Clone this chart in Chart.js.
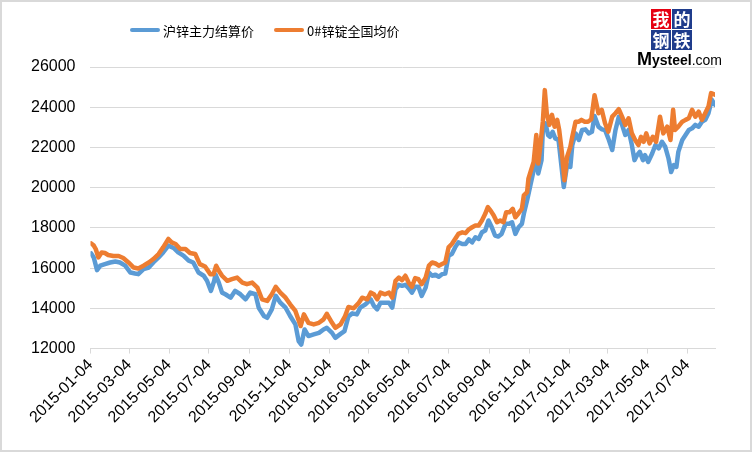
<!DOCTYPE html>
<html>
<head>
<meta charset="utf-8">
<title>沪锌主力结算价 vs 0#锌锭全国均价</title>
<script src="https://cdn.jsdelivr.net/npm/chart.js@4.4.1/dist/chart.umd.min.js"></script>
<style>
    html, body { margin: 0; padding: 0; background: #fff; }
    #wrap { width: 752px; height: 452px; }
</style>
</head>
<body>
<div id="wrap"><canvas id="myChart" width="752" height="452"></canvas></div>
<script>
// Reeksnamen
const seriesNames = ['沪锌主力结算价', '0#锌锭全国均价'];

// As-labels (elke 2 maanden)
const tickLabels = [
    '2015-01-04', '2015-03-04', '2015-05-04', '2015-07-04', '2015-09-04', '2015-11-04',
    '2016-01-04', '2016-03-04', '2016-05-04', '2016-07-04', '2016-09-04', '2016-11-04',
    '2017-01-04', '2017-03-04', '2017-05-04', '2017-07-04'
];

// 沪锌主力结算价 (blauw)
const zincDates = [
    '2015-01-05','2015-01-09','2015-01-14','2015-01-19','2015-01-26','2015-02-03','2015-02-11','2015-02-18',
    '2015-02-26','2015-03-06','2015-03-13','2015-03-18','2015-03-26','2015-04-03','2015-04-10','2015-04-18',
    '2015-04-25','2015-05-03','2015-05-11','2015-05-18','2015-05-26','2015-06-03','2015-06-10','2015-06-18',
    '2015-06-26','2015-07-01','2015-07-07','2015-07-12','2015-07-14','2015-07-19','2015-07-24','2015-07-29',
    '2015-08-06','2015-08-13','2015-08-21','2015-08-29','2015-09-05','2015-09-13','2015-09-18','2015-09-26',
    '2015-10-01','2015-10-08','2015-10-14','2015-10-21','2015-10-29','2015-11-05','2015-11-13','2015-11-18',
    '2015-11-22','2015-11-27','2015-12-03','2015-12-11','2015-12-19','2015-12-26','2015-12-31','2016-01-08',
    '2016-01-13','2016-01-21','2016-01-27','2016-02-02','2016-02-08','2016-02-15','2016-02-20','2016-02-28',
    '2016-03-07','2016-03-12','2016-03-17','2016-03-22','2016-03-29','2016-04-04','2016-04-09','2016-04-14',
    '2016-04-19','2016-04-24','2016-04-29','2016-05-04','2016-05-09','2016-05-14','2016-05-19','2016-05-24',
    '2016-05-30','2016-06-04','2016-06-09','2016-06-14','2016-06-19','2016-06-24','2016-06-29','2016-07-04',
    '2016-07-09','2016-07-14','2016-07-19','2016-07-25','2016-07-30','2016-08-04','2016-08-09','2016-08-14',
    '2016-08-19','2016-08-24','2016-08-29','2016-09-03','2016-09-08','2016-09-13','2016-09-18','2016-09-23',
    '2016-09-29','2016-10-04','2016-10-09','2016-10-14','2016-10-19','2016-10-24','2016-10-27','2016-11-01',
    '2016-11-06','2016-11-11','2016-11-15','2016-11-18','2016-11-23','2016-11-25','2016-11-29','2016-12-03',
    '2016-12-06','2016-12-10','2016-12-14','2016-12-19','2016-12-23','2016-12-27','2017-01-01','2017-01-06',
    '2017-01-09','2017-01-14','2017-01-19','2017-01-24','2017-01-29','2017-02-03','2017-02-08','2017-02-12',
    '2017-02-18','2017-02-23','2017-02-28','2017-03-05','2017-03-11','2017-03-16','2017-03-21','2017-03-26',
    '2017-03-31','2017-04-05','2017-04-10','2017-04-14','2017-04-18','2017-04-22','2017-04-27','2017-04-30',
    '2017-05-05','2017-05-11','2017-05-16','2017-05-21','2017-05-26','2017-05-31','2017-06-05','2017-06-09',
    '2017-06-13','2017-06-17','2017-06-20','2017-06-26','2017-07-01','2017-07-06','2017-07-11','2017-07-16',
    '2017-07-21','2017-07-26','2017-07-31','2017-08-05','2017-08-10','2017-08-15'
];
const zincSettle = [
    16730,16530,15900,16120,16200,16280,16330,16280,
    16120,15780,15730,15700,15950,16030,16280,16530,
    16780,17120,17000,16780,16620,16370,16280,15780,
    15620,15370,14870,15370,15680,15280,14780,14700,
    14530,14870,14700,14450,14780,14700,14030,13620,
    13530,13950,14620,14280,14030,13620,13200,12370,
    12200,12950,12620,12700,12780,12950,13030,12780,
    12530,12730,12870,13600,13750,13700,14030,14200,
    14450,14120,13950,14280,14280,14280,14030,14950,
    15170,15120,15170,15000,14780,15070,15070,14620,
    15030,15780,15620,15670,15570,15700,15730,16620,
    16700,17030,17280,17200,17200,17430,17280,17530,
    17450,17780,17870,18370,18030,17620,17570,17700,
    18200,18200,18280,17700,18030,18200,18700,19370,
    20120,20870,21530,20700,21370,22870,23200,22620,
    22530,22780,22450,22370,21200,20030,21120,21030,
    22120,22700,22370,22870,22900,22700,22780,23560,
    23030,22900,22870,22450,21870,22870,23530,23120,
    22620,22870,22120,21370,21620,21780,21370,21620,
    21280,21700,22120,21950,22280,22030,21450,20780,
    21120,21030,21780,22370,22620,22870,22950,23120,
    23030,23280,23370,23700,24370,24120
];

// 0#锌锭全国均价 (oranje)
const ingotDates = [
    '2015-01-05','2015-01-09','2015-01-12','2015-01-16','2015-01-21','2015-01-26','2015-01-31','2015-02-08',
    '2015-02-16','2015-02-23','2015-03-03','2015-03-11','2015-03-18','2015-03-26','2015-04-03','2015-04-10',
    '2015-04-18','2015-04-25','2015-05-03','2015-05-08','2015-05-14','2015-05-21','2015-05-29','2015-06-05',
    '2015-06-13','2015-06-20','2015-06-28','2015-07-06','2015-07-11','2015-07-15','2015-07-19','2015-07-24',
    '2015-08-01','2015-08-08','2015-08-16','2015-08-24','2015-08-31','2015-09-08','2015-09-16','2015-09-23',
    '2015-10-01','2015-10-08','2015-10-14','2015-10-21','2015-10-29','2015-11-05','2015-11-13','2015-11-21',
    '2015-11-26','2015-12-03','2015-12-11','2015-12-19','2015-12-26','2015-12-31','2016-01-08','2016-01-13',
    '2016-01-21','2016-01-28','2016-02-02','2016-02-10','2016-02-18','2016-02-23','2016-03-02','2016-03-07',
    '2016-03-12','2016-03-17','2016-03-22','2016-03-29','2016-04-04','2016-04-09','2016-04-14','2016-04-19',
    '2016-04-24','2016-04-29','2016-05-04','2016-05-09','2016-05-14','2016-05-19','2016-05-24','2016-05-30',
    '2016-06-04','2016-06-09','2016-06-14','2016-06-19','2016-06-24','2016-06-29','2016-07-04','2016-07-09',
    '2016-07-14','2016-07-19','2016-07-25','2016-07-30','2016-08-04','2016-08-09','2016-08-14','2016-08-19',
    '2016-08-24','2016-08-29','2016-09-02','2016-09-06','2016-09-11','2016-09-16','2016-09-21','2016-09-26',
    '2016-09-30','2016-10-05','2016-10-10','2016-10-14','2016-10-19','2016-10-24','2016-10-27','2016-11-01',
    '2016-11-03','2016-11-07','2016-11-11','2016-11-15','2016-11-18','2016-11-21','2016-11-25','2016-11-28',
    '2016-12-01','2016-12-05','2016-12-09','2016-12-13','2016-12-17','2016-12-20','2016-12-24','2016-12-28',
    '2017-01-01','2017-01-06','2017-01-09','2017-01-14','2017-01-19','2017-01-23','2017-01-28','2017-02-02',
    '2017-02-07','2017-02-12','2017-02-18','2017-02-23','2017-02-28','2017-03-05','2017-03-11','2017-03-16',
    '2017-03-21','2017-03-26','2017-03-31','2017-04-05','2017-04-10','2017-04-15','2017-04-20','2017-04-24',
    '2017-04-28','2017-05-02','2017-05-07','2017-05-12','2017-05-17','2017-05-23','2017-05-28','2017-06-03',
    '2017-06-08','2017-06-12','2017-06-15','2017-06-20','2017-06-26','2017-07-01','2017-07-06','2017-07-11',
    '2017-07-16','2017-07-21','2017-07-26','2017-07-31','2017-08-05','2017-08-09','2017-08-15'
];
const ingotPrice = [
    17230,17120,16950,16530,16780,16750,16650,16600,
    16600,16500,16280,16030,15980,16120,16280,16450,
    16700,17030,17450,17280,17200,16950,16950,16750,
    16700,16200,16080,15700,15700,16120,15870,15620,
    15370,15450,15530,15280,15200,15280,15030,14450,
    14370,14700,15070,14780,14530,14200,13870,13120,
    13700,13280,13200,13280,13450,13730,13280,13030,
    13200,13620,14070,14000,14280,14530,14450,14780,
    14700,14450,14780,14700,14780,14530,15370,15530,
    15400,15620,15280,15070,15500,15450,15200,15530,
    16120,16280,16230,16120,16200,16280,17030,17200,
    17450,17700,17780,17740,17930,18030,18120,18120,
    18370,18700,19030,18870,18620,18280,18370,18280,
    18780,18780,18950,18530,18730,18950,19620,19780,
    20450,20870,21280,22620,21200,22030,23280,24850,
    23700,23120,23620,23030,23370,22870,21780,20370,
    21530,22030,22530,23280,23280,23370,23280,23280,
    23400,24600,23700,23870,23200,22780,23530,23700,
    23900,23530,23120,23450,22700,22370,22120,22530,
    22280,22700,22200,22530,22280,23530,22700,23030,
    22370,23870,22870,23030,23280,23370,23450,23870,
    23530,23780,23370,23700,24030,24700,24620
];

// Kleuren en lettertypes
const blauw = '#5B9BD5';
const oranje = '#ED7D31';
const rasterKleur = '#D9D9D9';
const cijferFont = "'Liberation Sans', Arial, sans-serif";
const cjkFont = "'Noto Sans CJK SC', 'Noto Sans', sans-serif";

// Datum -> aantal dagen sinds de eerste as-label
function dagNummer(s) {
    var p = s.split('-');
    var t0 = Date.UTC(2015, 0, 4);
    return Math.round((Date.UTC(+p[0], +p[1] - 1, +p[2]) - t0) / 86400000);
}

function maakPunten(dates, values) {
    return dates.map(function(d, i) { return { x: dagNummer(d), y: values[i] }; });
}

const tickDays = tickLabels.map(dagNummer);
const laatsteDag = dagNummer(zincDates[zincDates.length - 1]);

// Witte achtergrond + rand rond de grafiek
const achtergrondPlugin = {
    id: 'achtergrond',
    beforeDraw: function(chart) {
        var ctx = chart.ctx;
        ctx.save();
        ctx.fillStyle = '#fff';
        ctx.fillRect(0, 0, chart.width, chart.height);
        ctx.restore();
    },
    afterDraw: function(chart) {
        var ctx = chart.ctx;
        ctx.save();
        ctx.strokeStyle = rasterKleur;
        ctx.lineWidth = 2;
        ctx.strokeRect(1, 1, chart.width - 2, chart.height - 2);
        ctx.restore();
    }
};

// Legenda bovenaan (lijnstukje + tekst)
const legendaPlugin = {
    id: 'legenda',
    afterDraw: function(chart) {
        var ctx = chart.ctx;
        var x = 130, y = 30;
        ctx.save();
        ctx.font = '13px ' + cjkFont;
        ctx.textBaseline = 'middle';
        chart.data.datasets.forEach(function(ds) {
            ctx.strokeStyle = ds.borderColor;
            ctx.lineWidth = 4;
            ctx.lineCap = 'round';
            ctx.beginPath();
            ctx.moveTo(x + 2, y);
            ctx.lineTo(x + 28, y);
            ctx.stroke();
            ctx.fillStyle = '#000';
            ctx.fillText(ds.label, x + 33, y + 1);
            x += 33 + ctx.measureText(ds.label).width + 20;
        });
        ctx.restore();
    }
};

// Mysteel logo rechtsboven
const logoPlugin = {
    id: 'logo',
    afterDraw: function(chart) {
        var ctx = chart.ctx;
        ctx.save();
        ctx.fillStyle = '#fff';
        ctx.fillRect(636, 3, 100, 64);
        var vakjes = [
            { t: '我', x: 651, y: 9, c: '#E60012' },
            { t: '的', x: 672, y: 9, c: '#1F3C8C' },
            { t: '钢', x: 651, y: 30, c: '#1F3C8C' },
            { t: '铁', x: 672, y: 30, c: '#1F3C8C' }
        ];
        ctx.textAlign = 'center';
        ctx.textBaseline = 'middle';
        ctx.font = 'bold 17px ' + cjkFont;
        vakjes.forEach(function(v) {
            ctx.fillStyle = v.c;
            ctx.fillRect(v.x, v.y, 20, 20);
            ctx.fillStyle = '#fff';
            ctx.fillText(v.t, v.x + 10, v.y + 11);
        });
        ctx.textAlign = 'left';
        ctx.textBaseline = 'alphabetic';
        ctx.fillStyle = '#000';
        ctx.font = 'bold 18px ' + cijferFont;
        ctx.fillText('M', 637, 65);
        var mx = 637 + ctx.measureText('M').width;
        ctx.font = 'bold 14px ' + cijferFont;
        ctx.fillText('ysteel', mx, 65);
        mx += ctx.measureText('ysteel').width;
        ctx.font = '14px ' + cijferFont;
        ctx.fillText('.com', mx, 65);
        ctx.restore();
    }
};

var ChartCanvas = document.getElementById('myChart');

var myChart = new Chart(ChartCanvas, {
    type: 'line',
    data: {
        datasets: [{
            label: seriesNames[0],
            data: maakPunten(zincDates, zincSettle),
            borderColor: blauw,
            backgroundColor: blauw,
            borderWidth: 4.5,
            pointRadius: 0,
            tension: 0,
            borderJoinStyle: 'round',
            borderCapStyle: 'round',
            order: 2
        }, {
            label: seriesNames[1],
            data: maakPunten(ingotDates, ingotPrice),
            borderColor: oranje,
            backgroundColor: oranje,
            borderWidth: 4.5,
            pointRadius: 0,
            tension: 0,
            borderJoinStyle: 'round',
            borderCapStyle: 'round',
            order: 1
        }]
    },
    options: {
        responsive: false,
        animation: false,
        parsing: false,
        layout: {
            padding: { left: 16, right: 37, top: 67, bottom: 23 }
        },
        plugins: {
            legend: { display: false },
            tooltip: { enabled: false }
        },
        scales: {
            x: {
                type: 'linear',
                min: 0,
                max: laatsteDag,
                afterBuildTicks: function(axis) {
                    axis.ticks = tickDays.map(function(d) { return { value: d }; });
                },
                ticks: {
                    autoSkip: false,
                    minRotation: 45,
                    maxRotation: 45,
                    padding: 2,
                    color: '#000',
                    font: { size: 16, family: cijferFont },
                    callback: function(value, index) { return tickLabels[index]; }
                },
                grid: {
                    drawOnChartArea: false,
                    drawTicks: true,
                    tickLength: 5,
                    color: rasterKleur
                },
                border: { display: true, color: rasterKleur }
            },
            y: {
                min: 12000,
                max: 26000,
                ticks: {
                    stepSize: 2000,
                    padding: 15,
                    color: '#000',
                    font: { size: 16, family: cijferFont },
                    callback: function(value) { return String(value); }
                },
                grid: { color: rasterKleur, drawTicks: false },
                border: { display: false }
            }
        }
    },
    plugins: [achtergrondPlugin, legendaPlugin, logoPlugin]
});
</script>
</body>
</html>
